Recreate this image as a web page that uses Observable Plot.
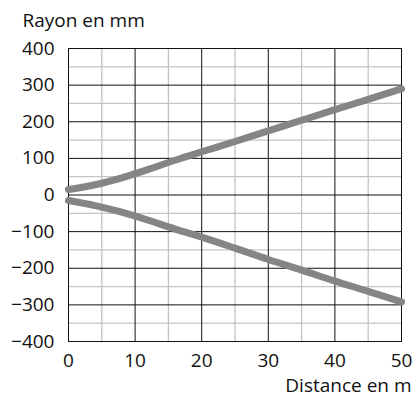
<!DOCTYPE html>
<html>
<head>
<meta charset="utf-8">
<script src="https://cdn.jsdelivr.net/npm/d3@7"></script>
<script src="https://cdn.jsdelivr.net/npm/@observablehq/plot@0.6"></script>
<style>
  html, body { margin: 0; padding: 0; background: #fff; }
</style>
</head>
<body>
<div id="chart"></div>
<script>
// Data
const distance = [0, 4, 8, 12, 16, 20, 25, 30, 35, 40, 45, 50];
const upper    = [15, 28, 47, 70, 95, 118, 146, 175, 204, 233, 261, 290];
const lower    = [-15, -29, -47, -69, -93, -115, -145, -176, -205, -235, -263, -292];

const xTicks = [0, 10, 20, 30, 40, 50];
const yTicks = [-400, -300, -200, -100, 0, 100, 200, 300, 400];
const xMinor = [5, 15, 25, 35, 45];
const yMinor = [-350, -250, -150, -50, 50, 150, 250, 350];
const xMajor = [10, 20, 30, 40];
const yMajor = [-300, -200, -100, 0, 100, 200, 300];

const yLabel = "Rayon en mm";
const xLabel = "Distance en m";

const upperData = distance.map((d, i) => ({x: d, y: upper[i]}));
const lowerData = distance.map((d, i) => ({x: d, y: lower[i]}));

const FS = 19;

const chart = Plot.plot({
  width: 416,
  height: 396,
  marginLeft: 68,
  marginRight: 15,
  marginTop: 48,
  marginBottom: 55,
  style: {fontFamily: "'Open Sans', sans-serif", fontSize: FS + "px", color: "#111", background: "#fff"},
  x: {domain: [0, 50]},
  y: {domain: [-400, 400]},
  marks: [
    Plot.ruleX(xMinor, {stroke: "#c4c4c4", strokeWidth: 1.3}),
    Plot.ruleY(yMinor, {stroke: "#c4c4c4", strokeWidth: 1.3}),
    Plot.ruleX(xMajor, {stroke: "#111", strokeWidth: 1}),
    Plot.ruleY(yMajor, {stroke: "#111", strokeWidth: 1}),
    Plot.frame({stroke: "#111", strokeWidth: 1}),
    Plot.axisX({ticks: xTicks, tickSize: 0, tickPadding: 12, tickFormat: d => String(d), label: null, fontSize: FS}),
    Plot.axisY({ticks: yTicks, tickSize: 0, tickPadding: 14, tickFormat: d => d < 0 ? "\u2212" + Math.abs(d) : String(d), label: null, fontSize: FS}),
    Plot.line(upperData, {x: "x", y: "y", stroke: "#858585", strokeWidth: 7, strokeLinecap: "round", strokeLinejoin: "round", curve: "monotone-x"}),
    Plot.line(lowerData, {x: "x", y: "y", stroke: "#858585", strokeWidth: 7, strokeLinecap: "round", strokeLinejoin: "round", curve: "monotone-x"}),
    Plot.text([yLabel], {frameAnchor: "top-left", text: d => d, textAnchor: "start", lineAnchor: "bottom", dx: -46, dy: -22, fontSize: FS, fill: "#111"}),
    Plot.text([xLabel], {frameAnchor: "bottom-right", text: d => d, textAnchor: "end", lineAnchor: "bottom", dx: 10, dy: 50, fontSize: FS, fill: "#111"})
  ]
});
document.getElementById("chart").appendChild(chart);
</script>
</body>
</html>
